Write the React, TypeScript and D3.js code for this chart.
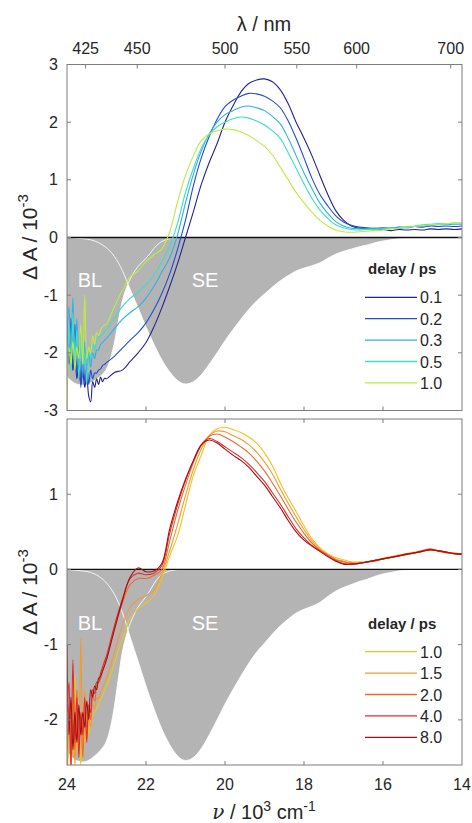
import React from 'react';
import * as d3 from 'd3';

// wavenumber grid (10^3 cm^-1)
const NU = [
  24.0, 23.95, 23.9, 23.85, 23.8, 23.75, 23.7, 23.65, 23.6, 23.55,
  23.5, 23.45, 23.4, 23.35, 23.3, 23.25, 23.2, 23.15, 23.1, 23.05,
  23.0, 22.8, 22.6, 22.4, 22.2, 22.0, 21.8, 21.6, 21.4, 21.2,
  21.0, 20.8, 20.6, 20.4, 20.2, 20.0, 19.8, 19.6, 19.4, 19.2,
  19.0, 18.8, 18.6, 18.4, 18.2, 18.0, 17.8, 17.6, 17.4, 17.2,
  17.0, 16.8, 16.6, 16.4, 16.2, 16.0, 15.8, 15.6, 15.4, 15.2,
  15.0, 14.8, 14.6, 14.4, 14.2, 14.0,
];

// top panel: delay 0.1 .. 1.0 ps
const TOP_D01 = [
  -1.85, -2.1, -1.75, -2.3, -2.0, -2.45, -2.2, -2.55, -2.3, -2.6,
  -2.4, -2.75, -2.85, -2.5, -2.6, -2.45, -2.55, -2.42, -2.5, -2.44,
  -2.45, -2.34, -2.3, -2.15, -2.0, -1.82, -1.55, -1.22, -0.85, -0.45,
  0.0, 0.45, 0.92, 1.3, 1.63, 2.0, 2.28, 2.52, 2.67, 2.73,
  2.75, 2.7, 2.56, 2.32, 2.0, 1.72, 1.42, 1.08, 0.75, 0.47,
  0.3, 0.2, 0.16, 0.15, 0.13, 0.14, 0.12, 0.14, 0.13, 0.14,
  0.13, 0.15, 0.14, 0.15, 0.14, 0.15,
];
const TOP_D02 = [
  -1.6, -2.2, -1.4, -2.3, -1.5, -2.4, -1.9, -2.6, -2.0, -2.5,
  -2.2, -2.55, -2.3, -2.45, -2.35, -2.35, -2.3, -2.28, -2.22, -2.2,
  -2.17, -2.06, -1.92, -1.78, -1.65, -1.48, -1.25, -0.97, -0.63, -0.2,
  0.3, 0.9, 1.38, 1.75, 2.05, 2.27, 2.38, 2.45, 2.5, 2.49,
  2.45, 2.37, 2.25, 2.02, 1.72, 1.38, 1.03, 0.75, 0.55, 0.38,
  0.27, 0.21, 0.18, 0.17, 0.16, 0.17, 0.16, 0.18, 0.17, 0.19,
  0.18, 0.2, 0.19, 0.2, 0.19, 0.2,
];
const TOP_D03 = [
  -1.7, -1.2, -2.1, -1.05, -2.3, -1.4, -2.2, -1.6, -2.4, -1.8,
  -2.3, -2.0, -2.25, -2.0, -2.1, -1.95, -1.95, -1.85, -1.82, -1.78,
  -1.75, -1.58, -1.42, -1.3, -1.2, -1.05, -0.85, -0.6, -0.35, 0.05,
  0.6, 1.1, 1.5, 1.8, 2.0, 2.13, 2.2, 2.26, 2.28, 2.25,
  2.2, 2.1, 1.97, 1.72, 1.42, 1.12, 0.85, 0.6, 0.42, 0.28,
  0.2, 0.16, 0.15, 0.15, 0.16, 0.15, 0.17, 0.16, 0.18, 0.19,
  0.2, 0.21, 0.22, 0.22, 0.23, 0.23,
];
const TOP_D05 = [
  -2.2, -1.5, -2.3, -1.3, -2.1, -1.6, -2.45, -1.8, -2.2, -2.0,
  -2.55, -2.0, -2.1, -1.85, -1.95, -1.8, -1.75, -1.7, -1.68, -1.63,
  -1.6, -1.4, -1.2, -1.05, -0.95, -0.82, -0.65, -0.42, -0.15, 0.25,
  0.78, 1.2, 1.55, 1.78, 1.92, 2.0, 2.06, 2.09, 2.07, 2.02,
  1.95, 1.85, 1.72, 1.47, 1.2, 0.93, 0.68, 0.48, 0.33, 0.22,
  0.17, 0.14, 0.13, 0.14, 0.14, 0.15, 0.16, 0.17, 0.19, 0.2,
  0.22, 0.23, 0.24, 0.24, 0.25, 0.25,
];
const TOP_D10 = [
  -3.2, -1.9, -2.2, -1.8, -2.3, -1.9, -2.1, -1.5, -2.2, -1.0,
  -2.1, -1.9, -2.0, -1.7, -1.85, -1.65, -1.7, -1.6, -1.55, -1.52,
  -1.5, -1.2, -0.92, -0.68, -0.58, -0.42, -0.3, -0.2, 0.1, 0.62,
  1.08, 1.42, 1.68, 1.8, 1.85, 1.88, 1.87, 1.83, 1.77, 1.68,
  1.58, 1.43, 1.22, 1.0, 0.78, 0.6, 0.44, 0.3, 0.2, 0.13,
  0.1, 0.09, 0.1, 0.11, 0.12, 0.13, 0.15, 0.16, 0.18, 0.19,
  0.21, 0.22, 0.23, 0.24, 0.25, 0.25,
];

// bottom panel: delay 1.0 .. 8.0 ps
const BOT_D10 = [
  -2.8, -2.3, -2.0, -2.5, -1.4, -2.4, -2.1, -2.6, -2.0, -2.3,
  -1.9, -2.2, -2.0, -1.95, -1.9, -1.85, -1.8, -1.73, -1.68, -1.6,
  -1.55, -1.25, -0.92, -0.65, -0.52, -0.45, -0.35, -0.12, 0.18, 0.45,
  0.85, 1.25, 1.52, 1.78, 1.87, 1.89, 1.86, 1.82, 1.76, 1.68,
  1.55, 1.38, 1.15, 0.95, 0.77, 0.58, 0.41, 0.29, 0.21, 0.16,
  0.13, 0.1, 0.1, 0.1, 0.12, 0.15, 0.17, 0.19, 0.21, 0.23,
  0.25, 0.26, 0.25, 0.23, 0.21, 0.2,
];
const BOT_D15 = [
  -2.7, -2.0, -2.4, -1.7, -2.6, -2.0, -2.3, -0.92, -2.4, -1.6,
  -2.2, -2.0, -2.1, -1.8, -1.85, -1.7, -1.72, -1.62, -1.58, -1.5,
  -1.45, -1.1, -0.75, -0.5, -0.4, -0.35, -0.27, -0.06, 0.25, 0.6,
  0.98, 1.33, 1.6, 1.78, 1.84, 1.83, 1.78, 1.73, 1.66, 1.56,
  1.43, 1.27, 1.07, 0.88, 0.7, 0.53, 0.38, 0.27, 0.2, 0.14,
  0.11, 0.09, 0.09, 0.1, 0.12, 0.14, 0.16, 0.19, 0.2, 0.22,
  0.24, 0.27, 0.25, 0.23, 0.22, 0.2,
];
const BOT_D20 = [
  -2.4, -1.8, -2.7, -2.0, -2.4, -1.6, -2.3, -2.0, -2.5, -1.9,
  -2.1, -1.85, -2.0, -1.7, -1.75, -1.55, -1.5, -1.45, -1.35, -1.27,
  -1.2, -0.8, -0.45, -0.2, -0.12, -0.12, -0.08, 0.0, 0.38, 0.78,
  1.12, 1.42, 1.65, 1.77, 1.8, 1.76, 1.7, 1.63, 1.55, 1.44,
  1.31, 1.15, 0.98, 0.8, 0.63, 0.48, 0.35, 0.26, 0.19, 0.13,
  0.1, 0.08, 0.08, 0.1, 0.11, 0.14, 0.16, 0.18, 0.2, 0.22,
  0.24, 0.26, 0.25, 0.22, 0.21, 0.2,
];
const BOT_D40 = [
  -1.9, -1.5, -2.6, -1.2, -2.3, -1.7, -2.5, -1.9, -2.2, -1.7,
  -2.3, -1.8, -1.9, -1.6, -1.65, -1.5, -1.5, -1.38, -1.3, -1.22,
  -1.15, -0.75, -0.4, -0.12, -0.05, -0.07, -0.05, 0.05, 0.48, 0.86,
  1.18, 1.44, 1.65, 1.74, 1.7, 1.63, 1.56, 1.49, 1.4, 1.29,
  1.17, 1.02, 0.87, 0.7, 0.54, 0.42, 0.32, 0.25, 0.18, 0.12,
  0.08, 0.07, 0.08, 0.1, 0.12, 0.14, 0.16, 0.18, 0.21, 0.22,
  0.25, 0.27, 0.24, 0.23, 0.21, 0.21,
];
const BOT_D80 = [
  -1.0, -2.2, -1.7, -2.4, -1.9, -2.3, -1.8, -2.2, -1.9, -2.1,
  -1.75, -2.0, -1.6, -1.7, -1.55, -1.6, -1.45, -1.42, -1.35, -1.28,
  -1.2, -0.8, -0.42, -0.1, 0.02, -0.03, -0.02, 0.08, 0.54, 0.9,
  1.2, 1.45, 1.66, 1.72, 1.68, 1.6, 1.52, 1.45, 1.36, 1.24,
  1.12, 0.97, 0.82, 0.65, 0.5, 0.39, 0.31, 0.24, 0.17, 0.11,
  0.07, 0.07, 0.08, 0.1, 0.12, 0.14, 0.16, 0.18, 0.2, 0.22,
  0.24, 0.26, 0.25, 0.23, 0.21, 0.2,
];

const TOP_LABELS = ['0.1', '0.2', '0.3', '0.5', '1.0'];
const TOP_COLORS = ['#24248f', '#1f4ed8', '#2fb0ea', '#3ddfc4', '#bdeb45'];
const BOT_LABELS = ['1.0', '1.5', '2.0', '4.0', '8.0'];
const BOT_COLORS = ['#f2c21c', '#f29a32', '#ee6a2c', '#dc2e2e', '#a80e0e'];

// bleach (BL) and stimulated emission (SE) bands
const BL_NU = [24.0, 23.9, 23.8, 23.7, 23.6, 23.5, 23.4, 23.3, 23.2, 23.1, 23.0, 22.9, 22.8, 22.7, 22.6, 22.5, 22.4, 22.3, 22.2, 22.1, 22.0, 21.9, 21.8, 21.7, 21.6, 21.5, 21.4, 21.3, 21.2];
const BL_VAL = [-2.42, -2.48, -2.53, -2.55, -2.56, -2.55, -2.52, -2.48, -2.43, -2.37, -2.28, -2.1, -1.82, -1.45, -1.1, -0.88, -0.72, -0.6, -0.5, -0.43, -0.36, -0.28, -0.19, -0.12, -0.07, -0.04, -0.02, -0.01, 0];
const SE_NU = [24.0, 23.8, 23.6, 23.4, 23.2, 23.0, 22.8, 22.6, 22.4, 22.2, 22.0, 21.8, 21.6, 21.4, 21.2, 21.0, 20.8, 20.6, 20.4, 20.2, 20.0, 19.8, 19.6, 19.4, 19.2, 19.0, 18.8, 18.6, 18.4, 18.2, 18.0, 17.8, 17.6, 17.4, 17.2, 17.0, 16.8, 16.6, 16.4, 16.2, 16.0, 15.8, 15.6, 15.4, 15.2, 15.0, 14.0];
const SE_VAL = [0, -0.01, -0.02, -0.04, -0.09, -0.18, -0.33, -0.57, -0.9, -1.22, -1.55, -1.85, -2.12, -2.33, -2.48, -2.54, -2.5, -2.38, -2.2, -2.0, -1.79, -1.6, -1.42, -1.25, -1.1, -0.98, -0.86, -0.75, -0.66, -0.58, -0.53, -0.49, -0.44, -0.36, -0.29, -0.24, -0.2, -0.16, -0.13, -0.09, -0.06, -0.04, -0.02, -0.01, 0, 0, 0];

const X_TICKS = [24, 22, 20, 18, 16, 14];
const WL_TICKS = [425, 450, 500, 550, 600, 700];
const TOP_Y_TICKS = [-3, -2, -1, 0, 1, 2, 3];
const BOT_Y_TICKS = [-2, -1, 0, 1];

const FONT = "'Liberation Sans', Arial, Helvetica, sans-serif";
const L = 67, R = 462;
const FRAME = '#7d7d7d';
const TXT = '#262626';

type PanelProps = {
  id: string;
  y: d3.ScaleLinear<number, number>;
  series: number[][];
  labels: string[];
  colors: string[];
  yTicks: number[];
  legendTitleY: number;
  legendY0: number;
  textY: number;
  labelCY: number;
  topTicks: 'wl' | 'nu';
  bottomLabels: boolean;
};

function Panel(p: PanelProps) {
  const x = d3.scaleLinear().domain([24, 14]).range([L, R]);
  const [yb, yt] = p.y.range();
  const line = d3.line<number>().x((_, i) => x(NU[i])).y((v) => p.y(v)).curve(d3.curveCatmullRom.alpha(0.5));
  const blArea = d3.area<number>().x((_, i) => x(BL_NU[i])).y0(p.y(0)).y1((v) => p.y(v)).curve(d3.curveMonotoneX);
  const seArea = d3.area<number>().x((_, i) => x(SE_NU[i])).y0(p.y(0)).y1((v) => p.y(v)).curve(d3.curveMonotoneX);
  const blLine = d3.line<number>().x((_, i) => x(BL_NU[i])).y((v) => p.y(v)).curve(d3.curveMonotoneX);
  const seLine = d3.line<number>().x((_, i) => x(SE_NU[i])).y((v) => p.y(v)).curve(d3.curveMonotoneX);
  const tl = 4;
  const innerX = X_TICKS.filter((t) => t !== 24 && t !== 14);
  return (
    <g>
      <defs>
        <clipPath id={p.id}>
          <rect x={L} y={yt} width={R - L} height={yb - yt} />
        </clipPath>
      </defs>
      <g clipPath={`url(#${p.id})`}>
        <path d={blArea(BL_VAL) || ''} fill="#b4b4b4" />
        <path d={seArea(SE_VAL) || ''} fill="#b4b4b4" />
        <path d={blLine(BL_VAL) || ''} fill="none" stroke="#ffffff" strokeWidth={1} opacity={0.85} />
        <path d={seLine(SE_VAL) || ''} fill="none" stroke="#ffffff" strokeWidth={1} opacity={0.85} />
        <line x1={L} x2={R} y1={p.y(0)} y2={p.y(0)} stroke="#111" strokeWidth={1.3} />
        {p.series.map((s, i) => (
          <path key={i} d={line(s) || ''} fill="none" stroke={p.colors[i]} strokeWidth={1.1} />
        ))}
      </g>
      <text x={90} y={p.textY} fill="#fff" fontSize={20} fontFamily={FONT} textAnchor="middle">BL</text>
      <text x={205} y={p.textY} fill="#fff" fontSize={20} fontFamily={FONT} textAnchor="middle">SE</text>
      {/* legend */}
      <text x={368} y={p.legendTitleY} fontSize={15} fontWeight="bold" fontFamily={FONT} fill={TXT}>delay / ps</text>
      {p.labels.map((lab, i) => {
        const ly = p.legendY0 + i * 21.4;
        return (
          <g key={lab}>
            <line x1={365} x2={417} y1={ly} y2={ly} stroke={p.colors[i]} strokeWidth={1.3} />
            <text x={420} y={ly + 6} fontSize={16} fontFamily={FONT} fill={TXT}>{lab}</text>
          </g>
        );
      })}
      {/* frame */}
      <rect x={L} y={yt} width={R - L} height={yb - yt} fill="none" stroke={FRAME} strokeWidth={1} />
      {/* x ticks */}
      {innerX.map((t) => (
        <line key={'b' + t} x1={x(t)} x2={x(t)} y1={yb} y2={yb - tl} stroke={FRAME} />
      ))}
      {p.topTicks === 'nu'
        ? innerX.map((t) => <line key={'t' + t} x1={x(t)} x2={x(t)} y1={yt} y2={yt + tl} stroke={FRAME} />)
        : WL_TICKS.map((w) => (
            <g key={'w' + w}>
              <line x1={x(1e4 / w)} x2={x(1e4 / w)} y1={yt} y2={yt + tl} stroke={FRAME} />
              <text x={x(1e4 / w)} y={54} fontSize={16} fontFamily={FONT} fill={TXT} textAnchor="middle">{w}</text>
            </g>
          ))}
      {p.bottomLabels &&
        X_TICKS.map((t) => (
          <text key={'xl' + t} x={x(t)} y={790} fontSize={16} fontFamily={FONT} fill={TXT} textAnchor="middle">{t}</text>
        ))}
      {/* y ticks */}
      {p.yTicks.map((t) => (
        <g key={'y' + t}>
          <line x1={L} x2={L + tl} y1={p.y(t)} y2={p.y(t)} stroke={FRAME} />
          <line x1={R} x2={R - tl} y1={p.y(t)} y2={p.y(t)} stroke={FRAME} />
          <text x={58} y={p.y(t) + 5.5} fontSize={16} fontFamily={FONT} fill={TXT} textAnchor="end">{t}</text>
        </g>
      ))}
      {/* y label */}
      <text transform={`translate(37,${p.labelCY}) rotate(-90)`} fontSize={21} fontFamily={FONT} fill={TXT} textAnchor="middle">
        Δ A / 10<tspan dy={-9} fontSize={15}>-3</tspan>
      </text>
    </g>
  );
}

export default function App() {
  const yTop = d3.scaleLinear().domain([-3, 3]).range([410.5, 64.5]);
  const yBot = d3.scaleLinear().domain([-2.6, 2]).range([765, 419]);
  return (
    <svg width={472} height={823} style={{ position: 'absolute', left: 0, top: 0, background: '#fff' }}>
      <rect x={0} y={0} width={472} height={823} fill="#fff" />
      <text x={264} y={31} fontSize={20} fontFamily={FONT} fill={TXT} textAnchor="middle">λ / nm</text>
      <Panel
        id="clipTop"
        y={yTop}
        series={[TOP_D01, TOP_D02, TOP_D03, TOP_D05, TOP_D10]}
        labels={TOP_LABELS}
        colors={TOP_COLORS}
        yTicks={TOP_Y_TICKS}
        legendTitleY={274}
        legendY0={297.3}
        textY={287}
        labelCY={237}
        topTicks="wl"
        bottomLabels={false}
      />
      <Panel
        id="clipBot"
        y={yBot}
        series={[BOT_D10, BOT_D15, BOT_D20, BOT_D40, BOT_D80]}
        labels={BOT_LABELS}
        colors={BOT_COLORS}
        yTicks={BOT_Y_TICKS}
        legendTitleY={629}
        legendY0={651.7}
        textY={630}
        labelCY={592}
        topTicks="nu"
        bottomLabels={true}
      />
      <text x={264} y={819} fontSize={20} fontFamily={FONT} fill={TXT} textAnchor="middle">
        <tspan fontStyle="italic" fontFamily="'DejaVu Serif', serif">ν</tspan>
        <tspan> / 10</tspan>
        <tspan dy={-8} fontSize={14}>3</tspan>
        <tspan dy={8}> cm</tspan>
        <tspan dy={-8} fontSize={14}>-1</tspan>
      </text>
    </svg>
  );
}
